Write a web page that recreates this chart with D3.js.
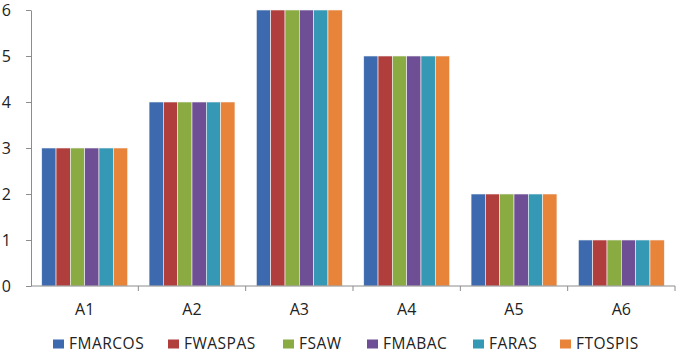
<!DOCTYPE html>
<html>
<head>
<meta charset="utf-8">
<script src="https://cdn.jsdelivr.net/npm/d3@7"></script>
<style>
body { margin: 0; background: #fff; }
svg text { font-family: "Open Sans", "DejaVu Sans", sans-serif; fill: #222; }
.axis path, .axis line { stroke: #8c8c8c; }
</style>
</head>
<body>
<div id="chart"></div>
<script>
const categories = ["A1", "A2", "A3", "A4", "A5", "A6"];
const seriesNames = ["FMARCOS", "FWASPAS", "FSAW", "FMABAC", "FARAS", "FTOSPIS"];
const fmarcos = [3, 4, 6, 5, 2, 1];
const fwaspas = [3, 4, 6, 5, 2, 1];
const fsaw = [3, 4, 6, 5, 2, 1];
const fmabac = [3, 4, 6, 5, 2, 1];
const faras = [3, 4, 6, 5, 2, 1];
const ftospis = [3, 4, 6, 5, 2, 1];
const yTicks = [0, 1, 2, 3, 4, 5, 6];

const colors = ["#3d6aae", "#b03e3c", "#8aaa42", "#6e4e94", "#3598b4", "#e8833a"];
const seriesValues = [fmarcos, fwaspas, fsaw, fmabac, faras, ftospis];

const svgWidth = 678, svgHeight = 354;
const margin = { top: 10, right: 3, bottom: 68, left: 31 };
const width = svgWidth - margin.left - margin.right;
const height = svgHeight - margin.top - margin.bottom;

const svg = d3.select("#chart").append("svg")
  .attr("width", svgWidth)
  .attr("height", svgHeight);

const chart = svg.append("g")
  .attr("transform", `translate(${margin.left},${margin.top})`);

const x0 = d3.scaleBand().domain(categories).range([0, width]).paddingInner(0.2).paddingOuter(0.1);
const xEdge = d3.scaleBand().domain(categories).range([0, width]);
const x1 = d3.scaleBand().domain(seriesNames).range([0, x0.bandwidth()]);
const y = d3.scaleLinear().domain([0, 6]).range([height, 0]);

// y axis
chart.append("g")
  .attr("class", "axis")
  .call(d3.axisLeft(y).tickValues(yTicks).tickFormat(d3.format("d")).tickSize(5).tickSizeOuter(0).tickPadding(15))
  .call(g => g.selectAll("text").attr("font-size", 16));

// bars
categories.forEach((c, i) => {
  chart.append("g")
    .attr("transform", `translate(${x0(c)},0)`)
    .selectAll("rect")
    .data(seriesNames.map((s, j) => ({ s, j, v: seriesValues[j][i] })))
    .enter()
    .append("rect")
    .attr("x", d => x1(d.s))
    .attr("y", d => y(d.v))
    .attr("width", x1.bandwidth())
    .attr("height", d => y(0) - y(d.v))
    .attr("fill", d => colors[d.j])
    .attr("stroke", "#f4f4f4")
    .attr("stroke-width", 0.6);
});

// x axis
const xAxis = chart.append("g")
  .attr("class", "axis")
  .attr("transform", `translate(0,${height})`);
xAxis.append("line").attr("x1", 0).attr("x2", width).attr("stroke", "#8c8c8c");
xAxis.selectAll(".sep")
  .data(categories.slice(1).concat(["end"]))
  .enter().append("line")
  .attr("x1", d => d === "end" ? width : xEdge(d))
  .attr("x2", d => d === "end" ? width : xEdge(d))
  .attr("y1", 0).attr("y2", 5)
  .attr("stroke", "#8c8c8c");
xAxis.selectAll(".lab")
  .data(categories)
  .enter().append("text")
  .attr("x", d => xEdge(d) + xEdge.bandwidth() / 2)
  .attr("y", 29)
  .attr("text-anchor", "middle")
  .attr("font-size", 16)
  .text(d => d);

// legend
const legendX = [53, 168, 283, 367, 473, 560];
const legend = svg.append("g").attr("transform", "translate(0,344)");
seriesNames.forEach((s, j) => {
  const g = legend.append("g").attr("transform", `translate(${legendX[j]},0)`);
  g.append("rect").attr("x", 0).attr("y", -4.5).attr("width", 11).attr("height", 9).attr("fill", colors[j]);
  g.append("text").attr("x", 16).attr("y", 4.5).attr("font-size", 15.5)
    .attr("letter-spacing", 0.5).text(s);
});
</script>
</body>
</html>
